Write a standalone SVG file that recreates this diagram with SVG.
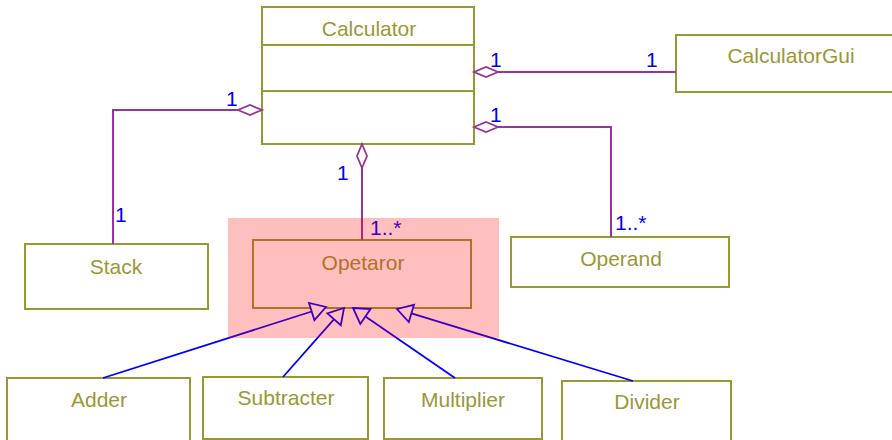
<svg xmlns="http://www.w3.org/2000/svg" width="892" height="440" viewBox="0 0 892 440">
<defs>
<style>
.box{fill:#ffffff;stroke:#999933;stroke-width:2}
.name{font-family:"Liberation Sans",Arial,sans-serif;font-size:21px;fill:#999933;text-anchor:middle}
.mult{font-family:"Liberation Sans",Arial,sans-serif;font-size:21px;fill:#0000ff}
.assoc{fill:none;stroke:#993399;stroke-width:2;marker-start:url(#diamond)}
.gen{fill:none;stroke:#0000ff;stroke-width:1.8}
.head{fill:#ffffff;stroke:#0000ff;stroke-width:1.8;stroke-linejoin:miter}
</style>
<marker id="diamond" markerUnits="userSpaceOnUse" viewBox="-3 -8 30 16" refX="0" refY="0" markerWidth="30" markerHeight="16" orient="auto" overflow="visible">
<path d="M0,0 L12,-5 L24,0 L12,5 Z" fill="#ffffff" stroke="#993399" stroke-width="1.8"/>
</marker>
</defs>
<rect width="892" height="440" fill="#ffffff"/>

<g id="Calculator">
<rect class="box" x="262" y="7" width="212" height="137"/>
<line x1="262" y1="45" x2="474" y2="45" stroke="#999933" stroke-width="2"/>
<line x1="262" y1="91" x2="474" y2="91" stroke="#999933" stroke-width="2"/>
<text class="name" x="369" y="36">Calculator</text>
</g>
<g id="CalculatorGui">
<rect class="box" x="676" y="35" width="230" height="57"/>
<text class="name" x="791" y="63">CalculatorGui</text>
</g>
<g id="Stack">
<rect class="box" x="25" y="244" width="183" height="65"/>
<text class="name" x="116" y="274">Stack</text>
</g>
<g id="Operand">
<rect class="box" x="511" y="237" width="218" height="50"/>
<text class="name" x="621" y="266">Operand</text>
</g>
<g id="Opetaror">
<rect class="box" x="253" y="240" width="218" height="68"/>
<text class="name" x="363" y="270">Opetaror</text>
</g>
<g id="Adder">
<rect class="box" x="7" y="378" width="183" height="70"/>
<text class="name" x="99" y="407">Adder</text>
</g>
<g id="Subtracter">
<rect class="box" x="203" y="377" width="165" height="62"/>
<text class="name" x="286" y="405">Subtracter</text>
</g>
<g id="Multiplier">
<rect class="box" x="384" y="378" width="158" height="61"/>
<text class="name" x="463" y="407">Multiplier</text>
</g>
<g id="Divider">
<rect class="box" x="562" y="381" width="169" height="70"/>
<text class="name" x="647" y="409">Divider</text>
</g>

<g id="connectors">
<path class="assoc" d="M474,72 L676,72"/>
<path class="assoc" d="M474,127 L611,127 L611,237"/>
<path class="assoc" d="M262,110 L113,110 L113,244"/>
<path class="assoc" d="M362,144 L362,240"/>
<path class="gen" d="M103,378 L311.7,311.5"/>
<polygon class="head" points="326,307 314.4,320.1 309,302.9"/>
<path class="gen" d="M283,377 L334.1,319.2"/>
<polygon class="head" points="344,308 340.8,325.2 327.4,313.3"/>
<path class="gen" d="M455,378 L365.4,316.5"/>
<polygon class="head" points="353,308 370.5,309.1 360.3,323.9"/>
<path class="gen" d="M633,381 L411.4,313.4"/>
<polygon class="head" points="397,309 414,304.8 408.8,322"/>
<text class="mult" x="490" y="67">1</text>
<text class="mult" x="646" y="67">1</text>
<text class="mult" x="490" y="122">1</text>
<text class="mult" x="615" y="230">1..*</text>
<text class="mult" x="226" y="106">1</text>
<text class="mult" x="115" y="222">1</text>
<text class="mult" x="337" y="180">1</text>
<text class="mult" x="370" y="235">1..*</text>
</g>

<g id="highlight">
<rect x="228" y="218" width="271" height="120" fill="#ff0000" fill-opacity="0.25"/>
</g>
</svg>
